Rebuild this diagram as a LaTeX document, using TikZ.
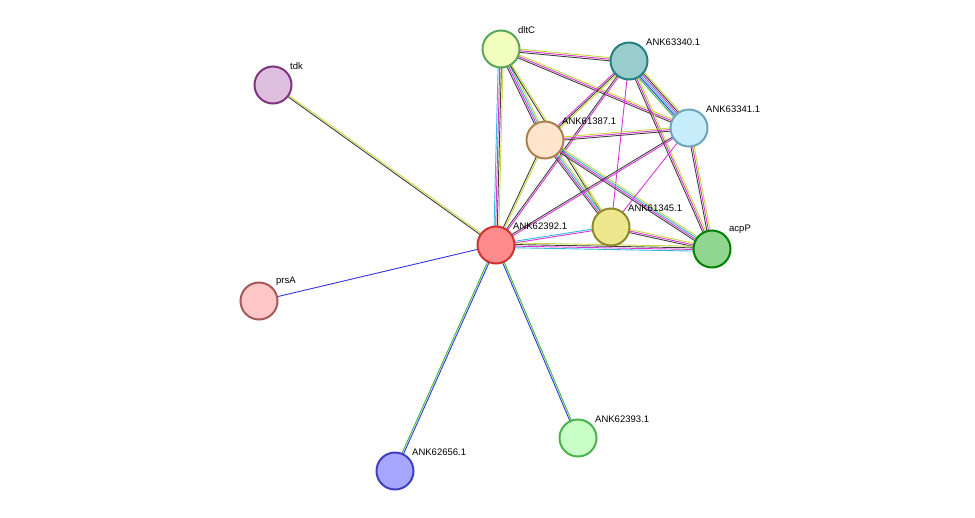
\documentclass[tikz,border=0pt]{standalone}
\usepackage{fontspec}
\setmainfont{Liberation Sans}
\usetikzlibrary{calc}

\definecolor{ctxt}{HTML}{C8D83A}
\definecolor{cexp}{HTML}{D936D9}
\definecolor{cdb}{HTML}{33B8E0}
\definecolor{ccoex}{HTML}{404040}
\definecolor{cocc}{HTML}{3333DD}
\definecolor{cnb}{HTML}{33BB33}

\tikzset{
  protein/.style={circle,draw,line width=2pt,minimum size=37pt,inner sep=0pt},
  plabel/.style={font=\fontsize{9.5}{10}\selectfont,anchor=south west,inner sep=1pt},
}

% \link{a}{b}{colours}: parallel coloured lines between two proteins
\newcommand{\link}[3]{%
  \foreach \c [count=\i] in {#3} {\xdef\nlines{\i}}%
  \foreach \c [count=\i] in {#3} {
    \pgfmathsetmacro{\off}{(\i-(\nlines+1)/2)*1.6}
    \draw[\c,line width=0.9pt]
      ($(#1.center)!\off pt!90:(#2.center)$) -- ($(#2.center)!\off pt!-90:(#1.center)$);
  }%
}

\begin{document}
\begin{tikzpicture}[x=1pt,y=-1pt]
\useasboundingbox (0,0) rectangle (975,517);

% proteins
\begin{scope}[on background layer/.style={}]
\coordinate (dltC) at (501,49);
\coordinate (p63340) at (629,61);
\coordinate (tdk) at (273,85);
\coordinate (p63341) at (689,128);
\coordinate (p61387) at (545,140);
\coordinate (p61345) at (611,227);
\coordinate (p62392) at (496,245);
\coordinate (acpP) at (712,249);
\coordinate (prsA) at (259,301);
\coordinate (p62393) at (578,438);
\coordinate (p62656) at (395,471);
\end{scope}

% connections
\link{tdk}{p62392}{ccoex,ctxt}
\link{prsA}{p62392}{cocc}
\link{p62656}{p62392}{cocc,cnb}
\link{p62393}{p62392}{cnb,cocc}
\link{dltC}{p63340}{ccoex,cexp,ctxt}
\link{dltC}{p63341}{ccoex,cexp,ctxt}
\link{dltC}{p61387}{ccoex,cexp,cdb,ctxt}
\link{dltC}{p61345}{ccoex,ctxt}
\link{dltC}{p62392}{cdb,cexp,ccoex,ctxt}
\link{p63340}{p63341}{cnb,cocc,cdb,cexp,ccoex,ctxt}
\link{p63340}{p61387}{cexp,ccoex,ctxt}
\link{p63340}{p62392}{ccoex,cexp}
\link{p63340}{p61345}{cexp}
\link{p63340}{acpP}{ccoex,cexp,ctxt}
\link{p61387}{p63341}{ccoex,cexp,ctxt}
\link{p61387}{p61345}{ccoex,cexp,cdb,ctxt}
\link{p61387}{p62392}{ccoex,ctxt}
\link{p61387}{acpP}{ccoex,cexp,cdb,ctxt}
\link{p63341}{p62392}{ccoex,cexp}
\link{p63341}{p61345}{cexp}
\link{p63341}{acpP}{ccoex,cexp,ctxt}
\link{p61345}{p62392}{cdb,cexp}
\link{p61345}{acpP}{ccoex,cexp,ctxt}
\link{p62392}{acpP}{cdb,cexp,ccoex,ctxt}

% nodes drawn over the lines
\node[protein,draw=green!30!gray,fill=green!20!yellow!25] (ndltC) at (dltC) {};
\node[protein,draw=teal!70!gray,fill=teal!40] (n63340) at (p63340) {};
\node[protein,draw=violet!60!gray,fill=violet!25] (ntdk) at (tdk) {};
\node[protein,draw=cyan!40!gray,fill=cyan!22] (n63341) at (p63341) {};
\node[protein,draw=brown!70!gray,fill=orange!20] (n61387) at (p61387) {};
\node[protein,draw=olive!70!gray,fill=olive!40!yellow!40] (n61345) at (p61345) {};
\node[protein,draw=red!60!gray,fill=red!45] (n62392) at (p62392) {};
\node[protein,draw=green!50!black,fill=green!45!gray!60] (nacpP) at (acpP) {};
\node[protein,draw=red!30!gray,fill=red!22] (nprsA) at (prsA) {};
\node[protein,draw=green!40!gray,fill=green!22] (n62393) at (p62393) {};
\node[protein,draw=blue!50!gray,fill=blue!35] (n62656) at (p62656) {};

% labels
\node[plabel] at ($(dltC)+(16,-14)$) {dltC};
\node[plabel] at ($(p63340)+(16,-14)$) {ANK63340.1};
\node[plabel] at ($(tdk)+(16,-14)$) {tdk};
\node[plabel] at ($(p63341)+(16,-14)$) {ANK63341.1};
\node[plabel] at ($(p61387)+(16,-14)$) {ANK61387.1};
\node[plabel] at ($(p61345)+(16,-14)$) {ANK61345.1};
\node[plabel] at ($(p62392)+(16,-14)$) {ANK62392.1};
\node[plabel] at ($(acpP)+(16,-14)$) {acpP};
\node[plabel] at ($(prsA)+(16,-14)$) {prsA};
\node[plabel] at ($(p62393)+(16,-14)$) {ANK62393.1};
\node[plabel] at ($(p62656)+(16,-14)$) {ANK62656.1};
\end{tikzpicture}
\end{document}
